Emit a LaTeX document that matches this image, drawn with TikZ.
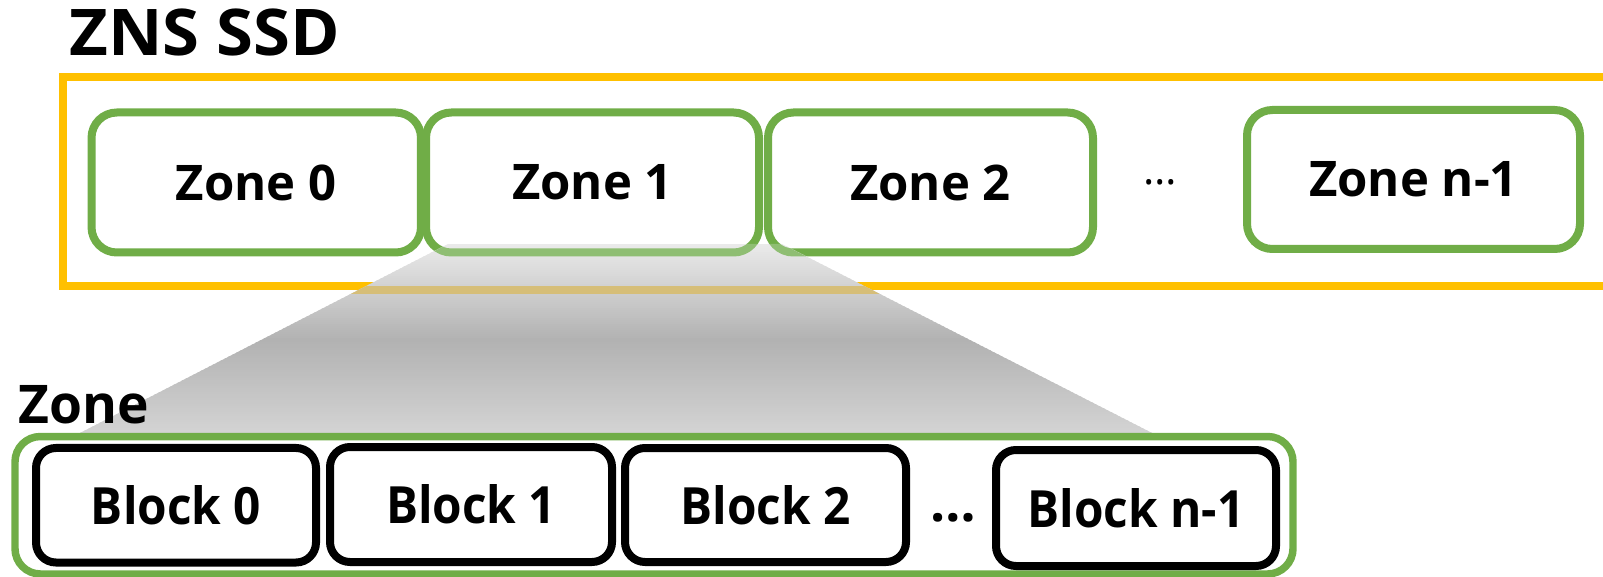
\documentclass[tikz,border=0pt]{standalone}
\usepackage{fontspec}
\setmainfont{Open Sans}
\newfontfamily\titlefont{Open Sans}[FakeStretch=1.04]
\newfontfamily\blockfont{Open Sans}[FakeStretch=0.93]
\definecolor{zyellow}{HTML}{FFC000}
\definecolor{zgreen}{HTML}{70AD47}
\definecolor{fanTop}{RGB}{234,234,234}
\definecolor{fanMid}{RGB}{178,178,178}
\definecolor{fanBot}{RGB}{212,212,212}
\definecolor{yellowUnder}{RGB}{214,190,120}
\definecolor{greenUnder}{RGB}{143,190,115}
\tikzset{
  zonebox/.style={draw=zgreen, line width=6pt, rounded corners=19pt, fill=white,
    inner sep=0pt, minimum height=105pt,
    font=\bfseries\fontsize{36.8}{40}\selectfont},
  blockbox/.style={draw=black, line width=6pt, rounded corners=15pt, fill=white,
    inner sep=0pt, font=\blockfont\bfseries\fontsize{38.5}{42}\selectfont},
  title/.style={anchor=base west, inner sep=0pt},
}
\begin{document}
\begin{tikzpicture}[x=0.75pt,y=-0.75pt]
\useasboundingbox (0,0) rectangle (1603,577);

% SSD frame, running off the right edge
\node[draw=zyellow, line width=6pt, inner sep=0pt,
      minimum width=1182.4pt, minimum height=156.75pt] (ssd) at (851.75,181.5) {};
\node[title, font=\titlefont\bfseries\fontsize{48.3}{52}\selectfont] (ssdlabel) at (69,56) {ZNS SSD};

% zones of the SSD
\node[zonebox, minimum width=247.1pt]  (z0) at (256.25,182.5) {Zone 0};
\node[zonebox, minimum width=249.75pt] (z1) at (592.5,182.5)  {Zone 1};
\node[zonebox, minimum width=243.75pt] (z2) at (930.5,182.5)  {Zone 2};
\node[anchor=base, inner sep=0pt, font=\fontsize{32}{36}\selectfont] (zdots) at (1160,185) {…};
\node[zonebox, minimum width=249.75pt, minimum height=104.25pt] (zn) at (1413.5,179.5) {Zone n-1};

% magnifying funnel from Zone 1 to the zone detail: light - dark - light bands
\begin{scope}
  \clip (448,244) -- (782,244) -- (1152,433) -- (80,433) -- cycle;
  \foreach \i in {0,...,47} {
    \pgfmathtruncatemacro\p{100*\i/47}
    \fill[fanMid!\p!fanTop] (0,244+2*\i) rectangle (1603,246.6+2*\i);
  }
  \foreach \i in {48,...,95} {
    \pgfmathtruncatemacro\p{100*(95-\i)/47}
    \fill[fanMid!\p!fanBot] (0,244+2*\i) rectangle (1603,246.6+2*\i);
  }
  % frame lines seen faintly through the funnel
  \draw[yellowUnder, line width=6pt] (ssd.south west) -- (ssd.south east);
  \node[draw=greenUnder, line width=6pt, rounded corners=19pt, inner sep=0pt,
        minimum width=249.75pt, minimum height=105pt] at (z1.center) {};
  \node[draw=greenUnder, line width=6pt, rounded corners=19pt, inner sep=0pt,
        minimum width=243.75pt, minimum height=105pt] at (z2.center) {};
\end{scope}

% zone detail
\node[title, font=\bfseries\fontsize{40}{44}\selectfont] (zonelabel) at (18,423) {Zone};
\node[draw=zgreen, line width=5.6pt, rounded corners=19pt, fill=white, inner sep=0pt,
      minimum width=958.5pt, minimum height=103.1pt] (zone) at (654,505.25) {};

\node[blockbox, minimum width=210pt,   minimum height=85.9pt]  (b0) at (176,505.25) {Block 0};
\node[blockbox, minimum width=211.5pt, minimum height=86.25pt] (b1) at (471,504.5)  {Block 1};
\node[blockbox, minimum width=210.75pt,minimum height=85.5pt]  (b2) at (765.5,505)  {Block 2};
\node[anchor=base, inner sep=0pt, font=\bfseries\fontsize{40}{44}\selectfont] (bdots) at (953,521) {…};
\node[blockbox, minimum width=210pt,   minimum height=87pt]    (bn) at (1136,508)   {Block n-1};
\end{tikzpicture}
\end{document}
